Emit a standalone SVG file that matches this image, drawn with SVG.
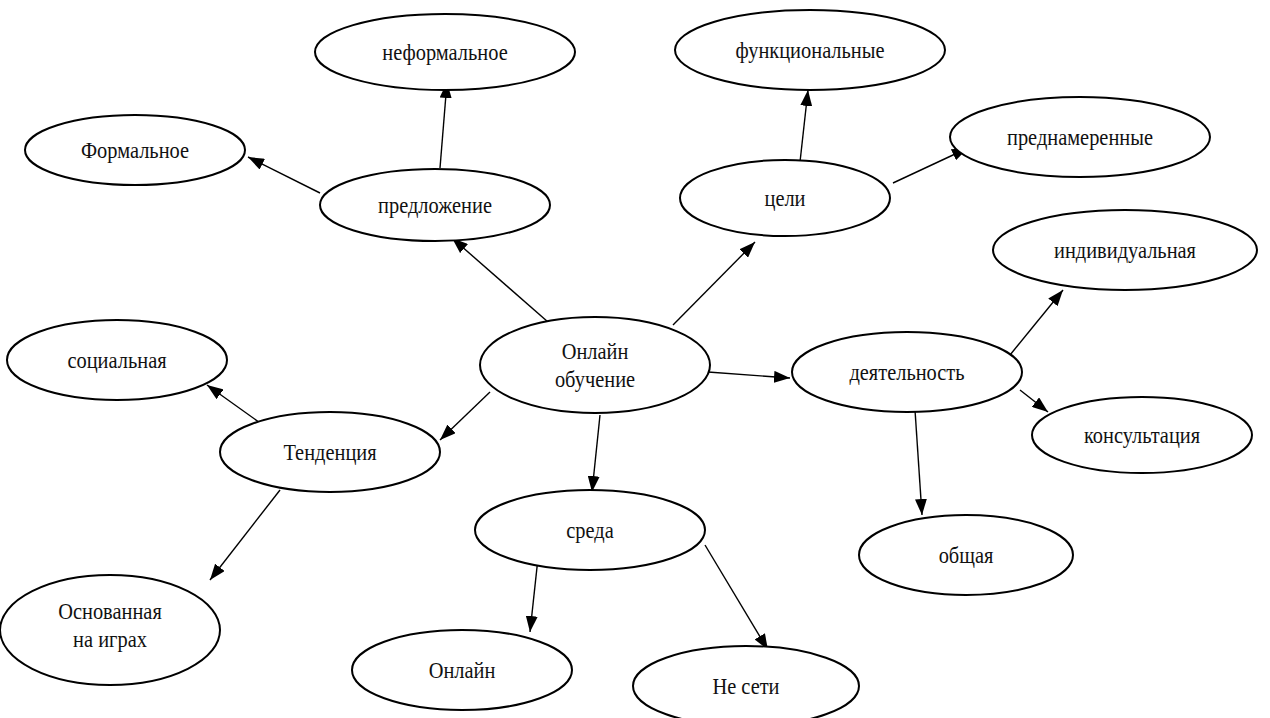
<svg xmlns="http://www.w3.org/2000/svg" width="1270" height="718" viewBox="0 0 1270 718">
<style>
.n ellipse{fill:#fff;stroke:#000;stroke-width:2}
.n text{font-family:'Liberation Serif','DejaVu Serif',serif;font-size:24px;fill:#111;text-anchor:middle}
.c line{stroke:#000;stroke-width:1.4;marker-end:url(#arr)}
</style>
<defs>
<marker id="arr" viewBox="0 0 16 12" refX="16" refY="6" markerWidth="16" markerHeight="12" markerUnits="userSpaceOnUse" orient="auto">
<path d="M0,0 L16,6 L0,12 z" fill="#000"/>
</marker>
</defs>
<rect width="1270" height="718" fill="#fff"/>
<g class="c" id="connectors">
<line x1="440" y1="168" x2="447" y2="82"/>
<line x1="320" y1="193" x2="248" y2="157"/>
<line x1="548" y1="322" x2="452" y2="238"/>
<line x1="800" y1="162" x2="808" y2="90"/>
<line x1="893" y1="183" x2="968" y2="148"/>
<line x1="673" y1="325" x2="755" y2="242"/>
<line x1="1010" y1="355" x2="1063" y2="290"/>
<line x1="1020" y1="390" x2="1048" y2="412"/>
<line x1="708" y1="372" x2="790" y2="378"/>
<line x1="915" y1="410" x2="922" y2="515"/>
<line x1="490" y1="392" x2="440" y2="440"/>
<line x1="263" y1="425" x2="207" y2="385"/>
<line x1="280" y1="490" x2="210" y2="580"/>
<line x1="600" y1="415" x2="592" y2="492"/>
<line x1="538" y1="558" x2="530" y2="632"/>
<line x1="705" y1="545" x2="768" y2="650"/>
</g>
<g class="n" id="n-neformalnoe"><ellipse cx="445" cy="52" rx="130" ry="38"/><text transform="translate(445,60) scale(0.85,1)">неформальное</text></g>
<g class="n" id="n-formalnoe"><ellipse cx="135" cy="150" rx="110" ry="35"/><text transform="translate(135,158) scale(0.85,1)">Формальное</text></g>
<g class="n" id="n-predlozhenie"><ellipse cx="435" cy="205" rx="115" ry="36"/><text transform="translate(435,213) scale(0.85,1)">предложение</text></g>
<g class="n" id="n-funktsionalnye"><ellipse cx="810" cy="50" rx="135" ry="40"/><text transform="translate(810,58) scale(0.85,1)">функциональные</text></g>
<g class="n" id="n-prednamerennye"><ellipse cx="1080" cy="137" rx="130" ry="40"/><text transform="translate(1080,145) scale(0.85,1)">преднамеренные</text></g>
<g class="n" id="n-tseli"><ellipse cx="785" cy="198" rx="105" ry="38"/><text transform="translate(785,206) scale(0.85,1)">цели</text></g>
<g class="n" id="n-individualnaya"><ellipse cx="1125" cy="250" rx="132" ry="40"/><text transform="translate(1125,258) scale(0.85,1)">индивидуальная</text></g>
<g class="n" id="n-online-learning"><ellipse cx="595" cy="365" rx="115" ry="48"/><text transform="translate(595,359) scale(0.85,1)">Онлайн</text><text transform="translate(595,387) scale(0.85,1)">обучение</text></g>
<g class="n" id="n-deyatelnost"><ellipse cx="907" cy="372" rx="115" ry="40"/><text transform="translate(907,380) scale(0.85,1)">деятельность</text></g>
<g class="n" id="n-konsultatsiya"><ellipse cx="1142" cy="435" rx="110" ry="38"/><text transform="translate(1142,443) scale(0.85,1)">консультация</text></g>
<g class="n" id="n-sotsialnaya"><ellipse cx="117" cy="360" rx="110" ry="40"/><text transform="translate(117,368) scale(0.85,1)">социальная</text></g>
<g class="n" id="n-tendentsiya"><ellipse cx="330" cy="452" rx="110" ry="40"/><text transform="translate(330,460) scale(0.85,1)">Тенденция</text></g>
<g class="n" id="n-sreda"><ellipse cx="590" cy="530" rx="115" ry="40"/><text transform="translate(590,538) scale(0.85,1)">среда</text></g>
<g class="n" id="n-obshchaya"><ellipse cx="966" cy="555" rx="107" ry="40"/><text transform="translate(966,563) scale(0.85,1)">общая</text></g>
<g class="n" id="n-games"><ellipse cx="110" cy="630" rx="110" ry="55"/><text transform="translate(110,619) scale(0.85,1)">Основанная</text><text transform="translate(110,647) scale(0.85,1)">на играх</text></g>
<g class="n" id="n-online"><ellipse cx="462" cy="670" rx="110" ry="40"/><text transform="translate(462,678) scale(0.85,1)">Онлайн</text></g>
<g class="n" id="n-ne-seti"><ellipse cx="746" cy="686" rx="113" ry="40"/><text transform="translate(746,694) scale(0.85,1)">Не сети</text></g>
</svg>
